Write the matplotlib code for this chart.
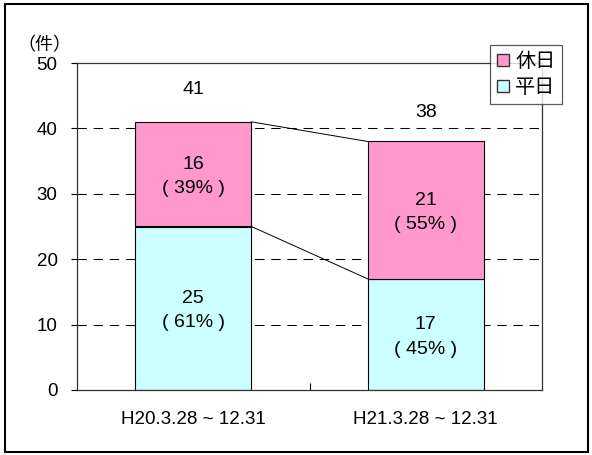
import matplotlib
matplotlib.use("Agg")
import matplotlib.pyplot as plt
from matplotlib.patches import Rectangle, Patch

plt.rcParams['font.family'] = ['Liberation Sans', 'Noto Sans CJK JP', 'DejaVu Sans']

categories = ["H20.3.28 ~ 12.31", "H21.3.28 ~ 12.31"]
weekday = [25, 17]
holiday = [16, 21]
weekday_pct = [61, 45]
holiday_pct = [39, 55]
totals = [41, 38]
yticks = [0, 10, 20, 30, 40, 50]

c_week = "#CCFFFF"
c_hol = "#FF99CC"

fig = plt.figure(figsize=(5.92, 4.55), dpi=100)
ax = fig.add_axes([77/592, 1-390/455, (542-77)/592, (390-63)/455])

x = list(range(len(categories)))
w = 0.5
for yv in yticks[1:-1]:
    ax.axhline(yv, color="black", lw=0.75, linestyle=(0, (9, 6.5)), zorder=0)

ax.bar(x, weekday, width=w, color=c_week, edgecolor="black", linewidth=0.8, zorder=2)
ax.bar(x, holiday, width=w, bottom=weekday, color=c_hol, edgecolor="black", linewidth=0.8, zorder=2)

# connecting lines between bars
ax.plot([x[0] + w/2, x[1] - w/2], [totals[0], totals[1]], color="black", lw=0.7, zorder=1)
ax.plot([x[0] + w/2, x[1] - w/2], [weekday[0], weekday[1]], color="black", lw=0.7, zorder=1)

fs_lab = 14
for i in x:
    ax.text(i, weekday[i]/2 - 0.4, f"{weekday[i]}\n( {weekday_pct[i]}% )", ha="center", va="center",
            fontsize=fs_lab, linespacing=1.55, zorder=3)
    ax.text(i, weekday[i] + holiday[i]/2 - 0.4, f"{holiday[i]}\n( {holiday_pct[i]}% )", ha="center", va="center",
            fontsize=fs_lab, linespacing=1.55, zorder=3)

total_label_y = [46.0, 42.5]
for i in x:
    ax.text(i, total_label_y[i], str(totals[i]), ha="center", va="center", fontsize=fs_lab)

ax.set_xlim(-0.5, 1.5)
ax.set_ylim(0, 50)
ax.set_yticks(yticks)
ax.set_yticklabels([str(v) for v in yticks], fontsize=13.5)
ax.set_xticks([0.5], minor=False)
ax.set_xticklabels([""])
ax.tick_params(axis="x", direction="in", length=5, width=0.8)
ax.tick_params(axis="y", direction="out", length=4, width=0.8, pad=10)
for i in x:
    ax.text(i, -3.2, categories[i], ha="center", va="top", fontsize=13.5, transform=ax.transData)
for s in ax.spines.values():
    s.set_linewidth(0.9)
    s.set_color("#333333")

fig.text(44/592, 1-46/455, "（件）", ha="center", va="center", fontsize=13)

handles = [Patch(facecolor=c_hol, edgecolor="#333333", label="休日"),
           Patch(facecolor=c_week, edgecolor="#333333", label="平日")]
leg = fig.legend(handles=handles, loc="upper left", bbox_to_anchor=(490/592, 1-45/455),
                 fontsize=14.5, frameon=True, fancybox=False, edgecolor="#333333",
                 handlelength=0.6, handleheight=0.6, handletextpad=0.3, borderpad=0.35,
                 labelspacing=0.35, borderaxespad=0)
leg.get_frame().set_linewidth(0.9)

fig.add_artist(Rectangle((5/592, 3/455), 583/592, 448/455, transform=fig.transFigure,
                         fill=False, edgecolor="black", linewidth=1.5))

fig.savefig("out.png", dpi=100)
